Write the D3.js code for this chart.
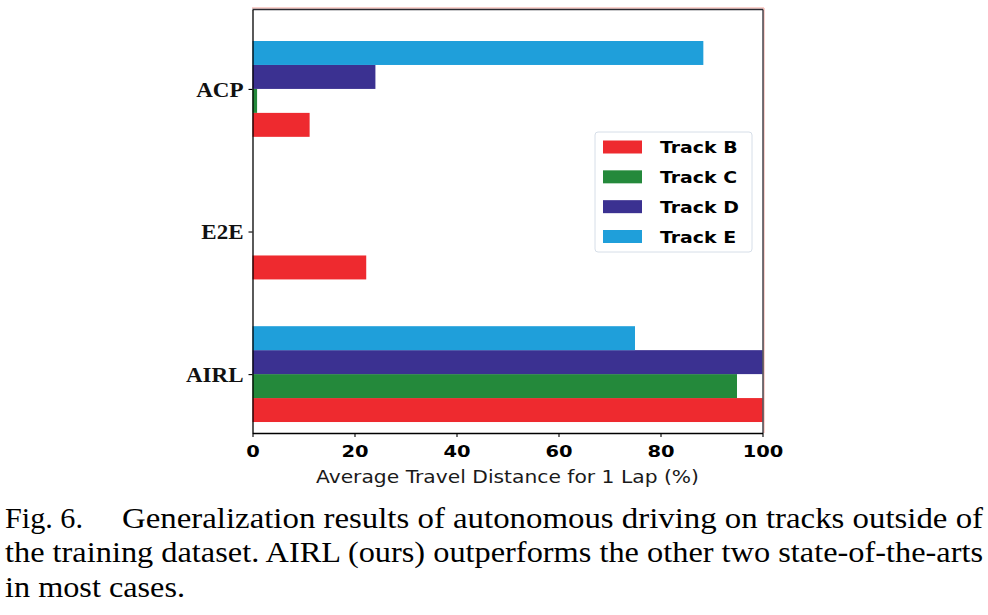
<!DOCTYPE html>
<html>
<head>
<meta charset="utf-8">
<script src="https://cdn.jsdelivr.net/npm/d3@7"></script>
<style>
  html, body { margin: 0; padding: 0; background: #fff; }
  svg { display: block; }
</style>
</head>
<body>
<svg id="chart" width="988" height="615"></svg>
<script>
// ---------------- data ----------------
const categories = ["AIRL", "E2E", "ACP"];          // bottom to top
const seriesNames = ["Track B", "Track C", "Track D", "Track E"];
const trackB = [100, 22.3, 11.2];
const trackC = [95, 0, 0.9];
const trackD = [100, 0, 24.1];
const trackE = [75, 0, 88.4];
const xTicks = [0, 20, 40, 60, 80, 100];
const seriesColors = ["#ee2a2f", "#24893b", "#3b3191", "#1f9fda"];
const captionLines = [
  "Generalization results of autonomous driving on tracks outside of",
  "the training dataset. AIRL (ours) outperforms the other two state-of-the-arts",
  "in most cases."
];

const seriesValues = [trackB, trackC, trackD, trackE];

const SERIF = '"Liberation Serif", "Times New Roman", serif';
const SANS = '"DejaVu Sans", sans-serif';

// ---------------- layout ----------------
const svg = d3.select("#chart");
const L = 252.5, R = 762.5, T = 9.5, B = 433;
const x = d3.scaleLinear().domain([0, 100]).range([L, R]);
const y = d3.scaleLinear().domain([-0.413, 2.557]).range([B, T]);
const barH = 0.168;

function stretch(sel, sx) {
  sel.each(function () {
    const w = this.getComputedTextLength();
    d3.select(this).attr("textLength", w * sx).attr("lengthAdjust", "spacingAndGlyphs");
  });
}

// bars
const g = svg.append("g");
seriesValues.forEach((vals, si) => {
  const off = (si - 1.5) * barH;
  g.selectAll(null)
    .data(vals.map((v, ci) => ({ v, ci })))
    .enter().append("rect")
    .attr("x", x(0))
    .attr("width", d => Math.max(0, x(d.v) - x(0)))
    .attr("y", d => y(d.ci + off + barH / 2))
    .attr("height", d => y(d.ci + off - barH / 2) - y(d.ci + off + barH / 2))
    .attr("fill", seriesColors[si]);
});

// frame
svg.append("line").attr("x1", L - 0.5).attr("x2", R + 1.5).attr("y1", T - 1.5).attr("y2", T - 1.5)
  .attr("stroke", "#f2a39a").attr("stroke-width", 1);
svg.append("line").attr("x1", R + 1.5).attr("x2", R + 1.5).attr("y1", T - 1.5).attr("y2", B)
  .attr("stroke", "#f2a39a").attr("stroke-width", 1);
svg.append("line").attr("x1", L).attr("x2", R + 0.5).attr("y1", T).attr("y2", T)
  .attr("stroke", "#2b2b33").attr("stroke-width", 1.3);
svg.append("line").attr("x1", R + 0.5).attr("x2", R + 0.5).attr("y1", T).attr("y2", B)
  .attr("stroke", "#2b2b33").attr("stroke-width", 1.3);

// x axis
const xAxis = d3.axisBottom(x).tickValues(xTicks).tickSize(4).tickSizeOuter(0).tickPadding(3).tickFormat(d3.format("d"));
const gx = svg.append("g").attr("transform", `translate(0,${B})`).call(xAxis);
gx.attr("font-family", SANS);
gx.select(".domain").attr("stroke", "#000").attr("stroke-width", 1.3);
gx.selectAll(".tick line").attr("stroke", "#000").attr("stroke-width", 1.1);
gx.selectAll(".tick text").attr("font-size", 16.5)
  .attr("font-weight", "bold").attr("fill", "#000").attr("dy", null).attr("y", 24);
stretch(gx.selectAll(".tick text"), 1.18);

// y axis
const yAxis = d3.axisLeft(y).tickValues([0, 1, 2]).tickSize(4).tickSizeOuter(0).tickPadding(5).tickFormat(i => categories[i]);
const gy = svg.append("g").attr("transform", `translate(${L},0)`).call(yAxis);
gy.attr("font-family", SERIF);
gy.select(".domain").attr("stroke", "#000").attr("stroke-width", 1.3);
gy.selectAll(".tick line").attr("stroke", "#000").attr("stroke-width", 1.1);
gy.selectAll(".tick text").attr("font-size", 21.5)
  .attr("font-weight", "bold").attr("fill", "#111").attr("dy", "0.34em").attr("x", -9);
stretch(gy.selectAll(".tick text"), 1.07);

// x label
svg.append("text").attr("font-family", SANS).attr("x", (L + R) / 2).attr("y", 483)
  .attr("text-anchor", "middle").attr("font-size", 18)
  .attr("fill", "#1a1a1a").text("Average Travel Distance for 1 Lap (%)")
  .attr("textLength", 383).attr("lengthAdjust", "spacingAndGlyphs");

// legend
const lg = svg.append("g");
lg.append("rect").attr("x", 595).attr("y", 132).attr("width", 157).attr("height", 120)
  .attr("rx", 3).attr("fill", "#fff").attr("stroke", "#d6dee8").attr("stroke-width", 1);
const legendRowY = d3.scaleLinear().domain([0, 3]).range([147, 236.5]);
seriesNames.forEach((name, i) => {
  const cy = legendRowY(i);
  lg.append("rect").attr("x", 603).attr("y", cy - 6.5).attr("width", 39).attr("height", 13)
    .attr("fill", seriesColors[i]);
  lg.append("text").attr("font-family", SANS).attr("x", 660).attr("y", cy + 6)
    .attr("font-size", 16).attr("font-weight", "bold").attr("fill", "#000").text(name)
    .call(s => stretch(s, 1.18));
});

// caption
const cap = svg.append("g").attr("font-family", SERIF).attr("font-size", 29).attr("fill", "#000");
cap.append("text").attr("x", 5).attr("y", 527.5).text("Fig. 6.")
  .attr("textLength", 78).attr("lengthAdjust", "spacingAndGlyphs");
cap.append("text").attr("x", 122).attr("y", 527.5).text(captionLines[0])
  .attr("textLength", 861).attr("lengthAdjust", "spacingAndGlyphs");
cap.append("text").attr("x", 5).attr("y", 562).text(captionLines[1])
  .attr("textLength", 978).attr("lengthAdjust", "spacingAndGlyphs");
cap.append("text").attr("x", 5).attr("y", 597).text(captionLines[2])
  .attr("textLength", 180).attr("lengthAdjust", "spacingAndGlyphs");
</script>
</body>
</html>
